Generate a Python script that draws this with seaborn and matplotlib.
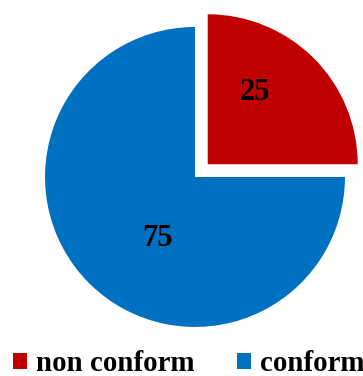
import matplotlib
matplotlib.use("Agg")
import matplotlib.pyplot as plt
import seaborn as sns

# Share of items by conformity status
categories = ["non conform", "conform"]
values = [25, 75]
colors = ["#C00000", "#0070C0"]

sns.set_theme(style="white")
plt.rcParams["font.family"] = ["Liberation Serif", "DejaVu Serif"]
plt.rcParams["text.color"] = "black"

fig = plt.figure(figsize=(3.63, 3.76), dpi=100)
ax = fig.add_axes([0, 0, 1, 1])

wedges, texts, autotexts = ax.pie(
    values,
    colors=colors,
    explode=[0.12, 0.0],
    startangle=0,
    counterclock=True,
    autopct=lambda p: f"{p:.0f}",
    pctdistance=0.55,
    wedgeprops=dict(linewidth=0),
    textprops=dict(fontsize=22, fontweight="bold", color="black"),
)

# Hand-placed value labels inside their wedges
label_pos = [(0.397, 0.565), (-0.253, -0.41)]
for t, pos in zip(autotexts, label_pos):
    t.set_position(pos)
    t.set_ha("center")
    t.set_va("center")

ax.set_xlim(-1.3, 1.12)
ax.set_ylim(-1.327, 1.18)
ax.set_aspect("equal")
ax.axis("off")

fig.legend(
    wedges, categories,
    loc="lower left", bbox_to_anchor=(0.02, -0.018),
    ncol=2, frameon=False,
    prop=dict(size=20.8, weight="bold"),
    labelcolor="black",
    handlelength=0.5, handleheight=0.5,
    handletextpad=0.3, columnspacing=1.45,
    borderaxespad=0.0, borderpad=0.2,
)

fig.savefig("out.png", dpi=100)
